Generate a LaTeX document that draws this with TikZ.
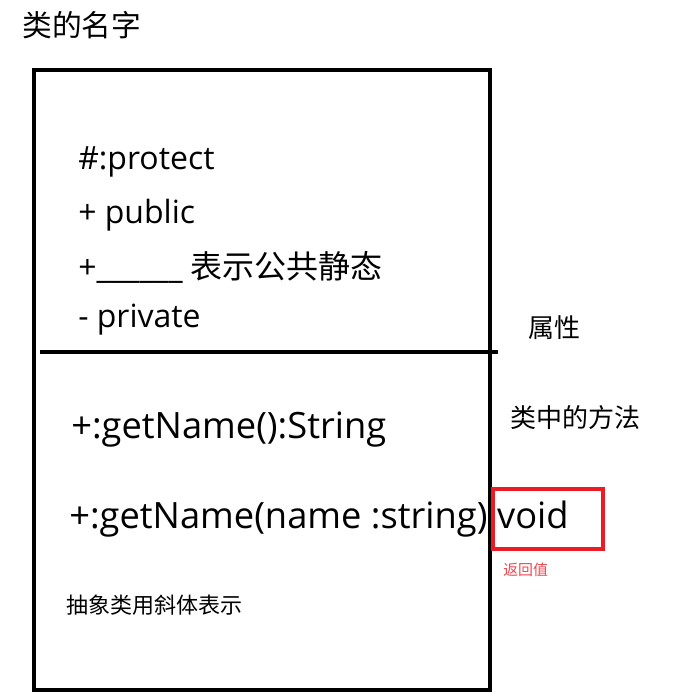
\documentclass[tikz,border=0pt]{standalone}
\usepackage{fontspec}
\setmainfont{Open Sans}
\newfontfamily\cjk{Noto Sans CJK SC}
\usetikzlibrary{positioning, calc}
\definecolor{mark}{RGB}{237,28,36}
\definecolor{marktext}{RGB}{240,70,80}
\tikzstyle{attr} = [anchor=west, inner sep=0pt, font=\fontsize{24}{28}\selectfont]
\tikzstyle{method} = [anchor=west, inner sep=0pt, font=\fontsize{27.2}{32}\selectfont]
\tikzstyle{note} = [anchor=west, inner sep=0pt, font=\cjk\fontsize{19.5}{23}\selectfont]
\tikzstyle{frame} = [rectangle, draw=black, line width=3pt, minimum width=342pt, minimum height=465pt, inner sep=0pt]

\begin{document}
\begin{tikzpicture}[x=0.75pt, y=-0.75pt]
    \useasboundingbox (0,0) rectangle (684,700);
    \node (title) [note, font=\cjk\fontsize{22.3}{26}\selectfont] at (22,25) {类的名字};
    \node (cls) [frame] at (262,380) {};
    \coordinate (divl) at (40,352);
    \coordinate (divr) at (498,352);
    \draw [line width=2.5pt] (divl) -- (divr);

    \node (prot) [attr] at (78,162) {\#:protect};
    \node (pub) [attr] at (78,215) {+ public};
    \node (stat) [attr] at (78,267) {+\_\_\_\_\_\_ {\cjk 表示公共静态}};
    \node (priv) [attr] at (78,320) {- private};
    \node (attrs) [note] at (528,328) {属性};

    \node (get) [method] at (71,430) {+:getName():String};
    \node (set) [method] at (69,519) {+:getName(name :string):void};
    \node (meths) [note] at (510,418) {类中的方法};
    \node (ret) [rectangle, draw=mark, line width=3pt, minimum width=83pt, minimum height=45pt] at (548,519) {};
    \node (retlbl) [note, text=marktext, font=\cjk\fontsize{11.2}{13}\selectfont] at (503,570) {返回值};
    \node (abst) [note, font=\cjk\fontsize{16.5}{20}\selectfont] at (66,605) {抽象类用斜体表示};
\end{tikzpicture}
\end{document}
